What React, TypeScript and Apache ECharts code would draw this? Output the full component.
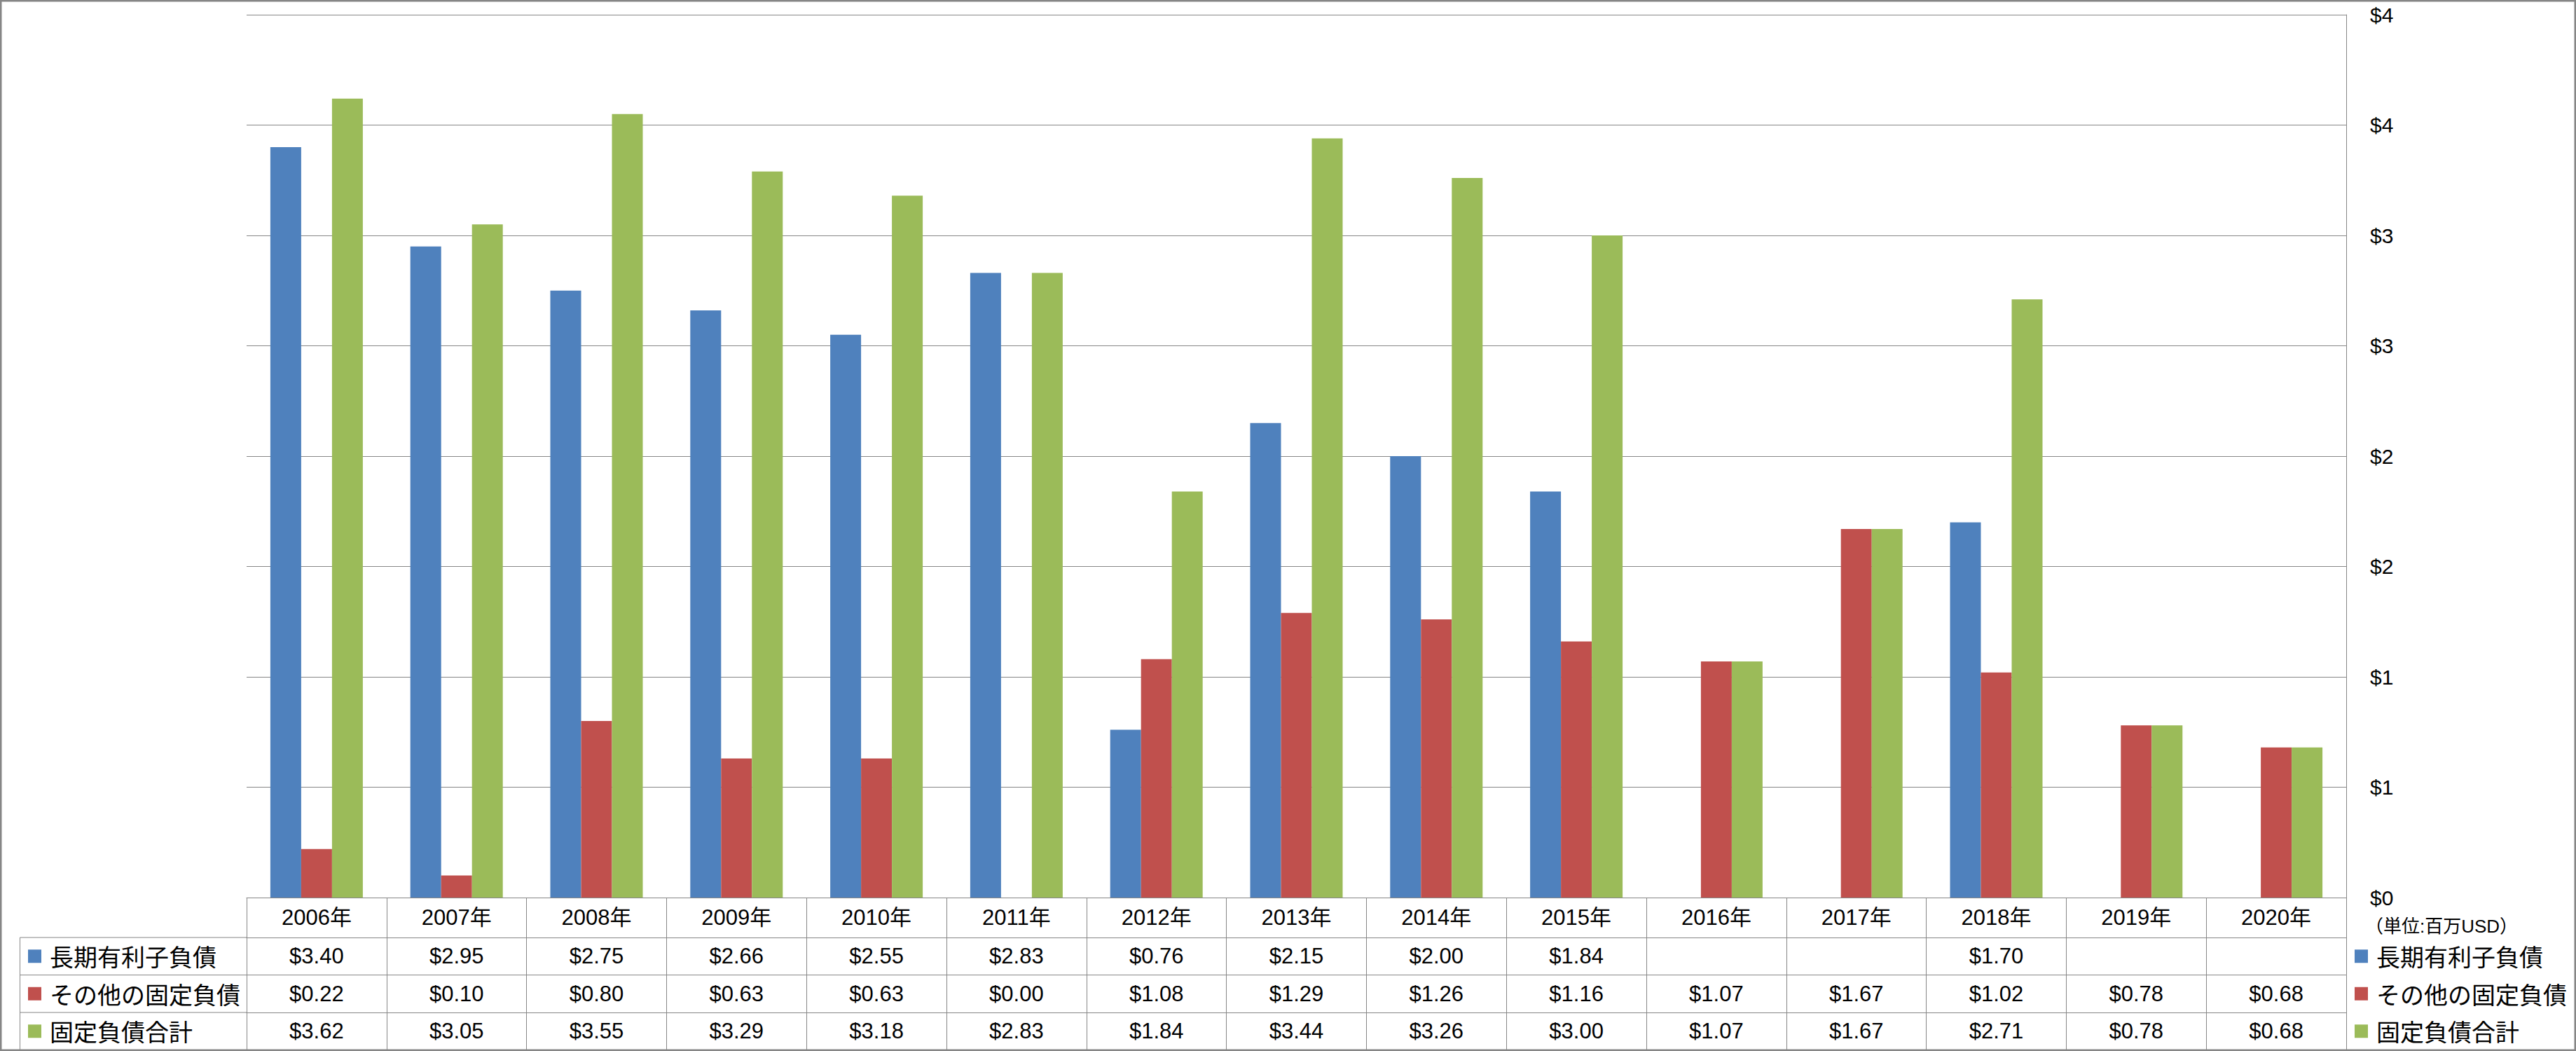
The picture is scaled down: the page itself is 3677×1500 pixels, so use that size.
import React, { useEffect, useRef } from "react";
import * as echarts from "echarts";

// ---- data ----
const categories = [
  "2006年", "2007年", "2008年", "2009年", "2010年", "2011年", "2012年", "2013年",
  "2014年", "2015年", "2016年", "2017年", "2018年", "2019年", "2020年",
];
const seriesNames = ["長期有利子負債", "その他の固定負債", "固定負債合計"];
const longTermDebt = [3.40, 2.95, 2.75, 2.66, 2.55, 2.83, 0.76, 2.15, 2.00, 1.84, null, null, 1.70, null, null];
const otherFixedLiabilities = [0.22, 0.10, 0.80, 0.63, 0.63, 0.00, 1.08, 1.29, 1.26, 1.16, 1.07, 1.67, 1.02, 0.78, 0.68];
const totalFixedLiabilities = [3.62, 3.05, 3.55, 3.29, 3.18, 2.83, 1.84, 3.44, 3.26, 3.00, 1.07, 1.67, 2.71, 0.78, 0.68];
const yMin = 0;
const yMax = 4;
const yInterval = 0.5;
const unitLabel = "（単位:百万USD）";

// ---- layout / style ----
const W = 3677;
const H = 1500;
const GRID_LEFT = 352;
const GRID_RIGHT_X = 3349;
const GRID_TOP = 21;
const GRID_BOTTOM_Y = 1281;
const HEADER_H = 57;
const ROW_H = 53.5;
const TABLE_LEFT = 28.5;
const LINE = "#868686";
const COLORS = ["#4F81BD", "#C0504D", "#9BBB59"];
const FONT = "'Liberation Sans', 'Noto Sans CJK JP', sans-serif";
const JP_FONT = "'Noto Sans CJK JP', sans-serif";

const rowData = [longTermDebt, otherFixedLiabilities, totalFixedLiabilities];
const fmtMoney = (v: number | null) => (v == null ? "" : "$" + v.toFixed(2));

export default function App() {
  const ref = useRef<HTMLDivElement>(null);

  useEffect(() => {
    if (!ref.current) return;
    const chart = echarts.init(ref.current, undefined, { renderer: "svg" });

    const lineStyle = { color: LINE, width: 1 };
    const labelBase = { fontSize: 31, fontFamily: FONT, color: "#000" };

    const xAxes: any[] = [
      {
        type: "category",
        gridIndex: 0,
        data: categories,
        position: "bottom",
        axisLine: { show: true, lineStyle },
        axisTick: { show: true, interval: 0, length: HEADER_H, lineStyle },
        axisLabel: { ...labelBase, interval: 0, margin: HEADER_H / 2, verticalAlign: "middle" },
        splitLine: { show: false },
      },
      ...rowData.map((d, r) => ({
        type: "category",
        gridIndex: 0,
        data: categories,
        position: "bottom",
        offset: HEADER_H + r * ROW_H,
        axisLine: { show: true, lineStyle },
        axisTick: { show: true, interval: 0, length: ROW_H, lineStyle },
        axisLabel: {
          ...labelBase,
          interval: 0,
          margin: ROW_H / 2,
          verticalAlign: "middle",
          formatter: (_v: string, i: number) => fmtMoney(d[i] as number | null),
        },
        splitLine: { show: false },
      })),
    ];

    const legendBase = {
      orient: "vertical",
      top: GRID_BOTTOM_Y + HEADER_H + ROW_H / 2 - 20,
      itemWidth: 19,
      itemHeight: 19,
      itemGap: ROW_H - 40,
      icon: "rect",
      padding: 0,
      selectedMode: false,
      data: seriesNames,
      textStyle: {
        fontSize: 34,
        fontFamily: JP_FONT,
        color: "#000",
        lineHeight: 40,
        padding: [0, 0, 0, 7],
      },
    };

    const option: any = {
      animation: false,
      backgroundColor: "#fff",
      title: {
        text: unitLabel,
        left: 3376,
        top: 1307,
        padding: 0,
        textStyle: { fontSize: 26, fontWeight: "normal", fontFamily: FONT, color: "#000", lineHeight: 30 },
      },
      legend: [
        { ...legendBase, left: 40 },
        { ...legendBase, left: 3361 },
      ],
      grid: {
        left: GRID_LEFT,
        right: W - GRID_RIGHT_X,
        top: GRID_TOP,
        bottom: H - GRID_BOTTOM_Y,
        containLabel: false,
        outerBoundsMode: "none",
      },
      xAxis: xAxes,
      yAxis: {
        type: "value",
        position: "right",
        min: yMin,
        max: yMax,
        interval: yInterval,
        axisLine: { show: true, lineStyle },
        axisTick: { show: false },
        splitLine: { show: true, lineStyle },
        axisLabel: {
          margin: 34,
          fontSize: 30,
          fontFamily: FONT,
          color: "#000",
          formatter: (v: number) => "$" + Math.round(v),
        },
      },
      series: seriesNames.map((name, k) => ({
        type: "bar",
        name,
        xAxisIndex: 0,
        yAxisIndex: 0,
        data: rowData[k],
        barWidth: 44,
        barGap: "0%",
        itemStyle: { color: COLORS[k] },
      })),
      graphic: [
        {
          type: "rect",
          silent: true,
          z: 100,
          shape: { x: 1.25, y: 1.25, width: W - 2.5, height: H - 2.5 },
          style: { fill: "none", stroke: LINE, lineWidth: 2.5 },
        },
        ...[0, 1, 2].map((r) => ({
          type: "line",
          silent: true,
          shape: {
            x1: TABLE_LEFT,
            y1: GRID_BOTTOM_Y + HEADER_H + r * ROW_H,
            x2: GRID_LEFT,
            y2: GRID_BOTTOM_Y + HEADER_H + r * ROW_H,
          },
          style: { stroke: LINE, lineWidth: 1 },
        })),
        {
          type: "line",
          silent: true,
          shape: { x1: TABLE_LEFT, y1: GRID_BOTTOM_Y + HEADER_H, x2: TABLE_LEFT, y2: H },
          style: { stroke: LINE, lineWidth: 1 },
        },
      ],
    };

    chart.setOption(option);
    return () => chart.dispose();
  }, []);

  return (
    <div
      ref={ref}
      style={{ position: "fixed", left: 0, top: 0, width: W, height: H, background: "#fff" }}
    />
  );
}
